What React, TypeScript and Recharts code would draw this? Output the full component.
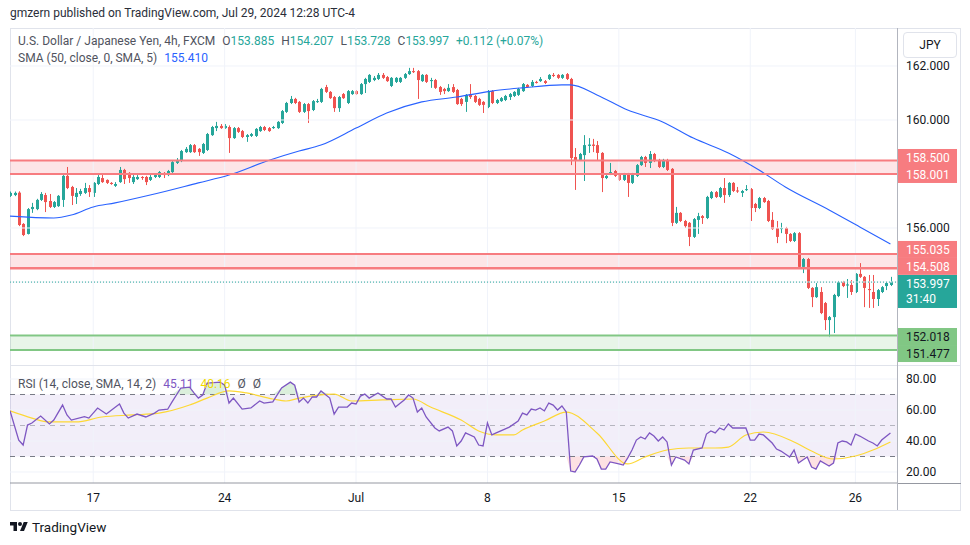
import React from 'react';
import { Area, Bar, ComposedChart, Line, ReferenceArea, ReferenceLine, XAxis, YAxis } from 'recharts';

// USDJPY 4h candles, [open, high, low, close]
const candles: number[][] = [
  [157.19, 157.35, 157.15, 157.30], [157.22, 157.35, 157.18, 157.30], [157.31, 157.36, 156.07, 156.11], [156.15, 156.18, 155.70, 155.74],
  [155.78, 156.74, 155.76, 156.70], [156.70, 156.93, 156.56, 156.78], [156.70, 157.08, 156.66, 157.04], [157.04, 157.33, 157.00, 157.26],
  [157.22, 157.30, 156.59, 156.96], [157.00, 157.26, 156.74, 156.78], [156.78, 157.00, 156.74, 156.96], [156.81, 157.22, 156.78, 157.19],
  [157.04, 157.96, 156.78, 157.93], [157.93, 158.26, 157.44, 157.48], [157.52, 157.56, 156.85, 157.19], [157.15, 157.48, 156.89, 157.30],
  [157.26, 157.45, 157.19, 157.37], [157.30, 157.67, 157.26, 157.48], [157.48, 157.59, 157.15, 157.33], [157.30, 157.70, 157.15, 157.67],
  [157.63, 157.96, 157.59, 157.89], [157.85, 158.00, 157.67, 157.70], [157.78, 157.80, 157.63, 157.67], [157.67, 157.70, 157.60, 157.63],
  [157.56, 157.70, 157.52, 157.63], [157.70, 158.26, 157.67, 158.15], [158.15, 158.19, 157.63, 157.81], [158.04, 158.07, 157.67, 157.85],
  [157.70, 157.96, 157.63, 157.89], [157.81, 157.96, 157.78, 157.89], [157.89, 157.92, 157.78, 157.85], [157.89, 157.93, 157.59, 157.70],
  [157.78, 157.96, 157.74, 157.89], [157.89, 158.02, 157.85, 157.96], [157.89, 158.11, 157.85, 158.07], [158.04, 158.07, 157.85, 157.96],
  [157.96, 158.15, 157.92, 158.11], [158.07, 158.48, 158.04, 158.44], [158.41, 158.59, 158.37, 158.52], [158.48, 158.89, 158.44, 158.85],
  [158.81, 159.00, 158.78, 158.93], [158.81, 159.11, 158.78, 159.07], [159.07, 159.11, 158.78, 158.81], [158.93, 158.96, 158.67, 158.81],
  [158.78, 159.15, 158.74, 159.11], [158.89, 159.52, 158.85, 159.48], [159.44, 159.78, 159.41, 159.74], [159.70, 159.93, 159.59, 159.78],
  [159.78, 159.85, 159.67, 159.70], [159.70, 159.85, 159.67, 159.78], [159.74, 159.80, 158.78, 159.33], [159.33, 159.74, 159.30, 159.70],
  [159.70, 159.74, 159.52, 159.56], [159.59, 159.63, 159.33, 159.37], [159.37, 159.48, 159.19, 159.44], [159.41, 159.52, 159.37, 159.48],
  [159.41, 159.70, 159.37, 159.67], [159.59, 159.78, 159.56, 159.74], [159.74, 159.78, 159.59, 159.63], [159.70, 159.74, 159.56, 159.59],
  [159.70, 159.78, 159.67, 159.74], [159.70, 159.96, 159.67, 159.93], [159.89, 160.37, 159.85, 160.33], [160.30, 160.67, 160.26, 160.63],
  [160.63, 160.89, 160.59, 160.78], [160.78, 160.82, 160.59, 160.63], [160.67, 160.70, 160.26, 160.30], [160.30, 160.63, 160.26, 160.59],
  [160.59, 160.63, 159.89, 160.33], [160.37, 160.74, 160.33, 160.70], [160.67, 160.78, 160.63, 160.70], [160.67, 161.19, 160.63, 161.15],
  [161.22, 161.30, 161.00, 161.04], [161.04, 161.07, 160.78, 160.81], [160.85, 160.89, 160.30, 160.44], [160.44, 160.89, 160.30, 160.85],
  [160.96, 161.00, 160.78, 160.81], [160.63, 161.11, 160.59, 161.07], [160.96, 161.11, 160.93, 161.07], [161.07, 161.11, 160.93, 160.96],
  [160.96, 161.37, 160.93, 161.33], [161.33, 161.56, 161.00, 161.52], [161.41, 161.70, 161.37, 161.67], [161.48, 161.63, 161.44, 161.56],
  [161.52, 161.74, 161.48, 161.67], [161.67, 161.74, 161.52, 161.56], [161.59, 161.63, 161.41, 161.44], [161.26, 161.59, 161.22, 161.56],
  [161.41, 161.59, 161.37, 161.56], [161.41, 161.59, 161.37, 161.56], [161.56, 161.74, 161.52, 161.70], [161.70, 161.93, 161.67, 161.81],
  [161.81, 161.93, 161.74, 161.78], [161.81, 161.85, 160.78, 161.48], [161.44, 161.70, 161.41, 161.67], [161.67, 161.70, 161.37, 161.41],
  [161.44, 161.56, 161.19, 161.48], [161.48, 161.52, 161.15, 161.19], [161.22, 161.26, 160.93, 161.04], [161.15, 161.19, 160.96, 161.07],
  [161.07, 161.33, 161.04, 161.19], [161.22, 161.33, 161.00, 161.04], [161.11, 161.15, 160.56, 160.59], [160.78, 160.82, 160.52, 160.59],
  [160.67, 160.96, 160.30, 160.93], [160.96, 161.33, 160.78, 160.85], [160.89, 160.93, 160.63, 160.67], [160.78, 160.82, 160.52, 160.56],
  [160.67, 160.70, 160.26, 160.56], [160.48, 161.11, 160.44, 161.07], [161.07, 161.11, 160.59, 160.63], [160.63, 160.78, 160.59, 160.74],
  [160.70, 160.85, 160.67, 160.81], [160.74, 160.93, 160.70, 160.89], [160.85, 161.00, 160.74, 160.96], [160.89, 161.07, 160.85, 161.04],
  [160.93, 161.19, 160.89, 161.15], [161.07, 161.37, 161.04, 161.33], [161.30, 161.33, 161.19, 161.22], [161.26, 161.48, 161.22, 161.41],
  [161.41, 161.45, 161.35, 161.39], [161.44, 161.59, 161.41, 161.52], [161.44, 161.48, 161.33, 161.37], [161.52, 161.70, 161.48, 161.67],
  [161.67, 161.74, 161.59, 161.63], [161.67, 161.70, 161.52, 161.56], [161.56, 161.70, 161.52, 161.67], [161.70, 161.74, 161.48, 161.52],
  [161.52, 161.56, 158.33, 158.59], [158.63, 158.96, 157.41, 158.52], [158.52, 158.78, 158.48, 158.74], [158.70, 159.44, 157.74, 159.07],
  [159.04, 159.33, 158.78, 159.09], [159.09, 159.30, 158.81, 159.04], [159.07, 159.22, 158.52, 158.78], [158.78, 158.81, 157.33, 157.85],
  [157.85, 157.96, 157.81, 157.93], [158.04, 158.41, 157.96, 158.07], [158.11, 158.15, 157.89, 157.93], [158.00, 158.04, 157.74, 157.78],
  [157.78, 158.04, 157.74, 158.00], [158.00, 158.04, 157.15, 157.67], [157.67, 158.04, 157.63, 158.00], [157.93, 158.37, 157.89, 158.33],
  [158.33, 158.67, 158.30, 158.63], [158.63, 158.67, 158.26, 158.41], [158.41, 158.85, 158.22, 158.74], [158.74, 158.78, 158.44, 158.48],
  [158.52, 158.56, 158.22, 158.26], [158.26, 158.56, 158.22, 158.52], [158.52, 158.56, 158.11, 158.15], [158.19, 158.22, 156.07, 156.19],
  [156.19, 156.78, 156.15, 156.56], [156.56, 156.59, 156.22, 156.26], [156.26, 156.30, 156.00, 156.07], [156.19, 156.22, 155.33, 155.67],
  [155.67, 156.37, 155.63, 156.33], [156.30, 156.56, 155.78, 156.44], [156.44, 156.48, 156.15, 156.37], [156.37, 157.19, 156.33, 157.15],
  [157.11, 157.37, 157.07, 157.33], [157.33, 157.37, 157.11, 157.15], [157.15, 157.52, 157.11, 157.48], [157.48, 157.85, 156.93, 157.22],
  [157.22, 157.70, 157.15, 157.67], [157.67, 157.70, 157.33, 157.37], [157.39, 157.52, 157.30, 157.35], [157.30, 157.41, 157.15, 157.37],
  [157.41, 157.59, 157.37, 157.44], [157.44, 157.48, 156.26, 156.74], [156.89, 156.93, 156.59, 156.74], [156.74, 157.15, 156.70, 157.11],
  [157.11, 157.15, 156.93, 156.96], [157.00, 157.04, 156.22, 156.26], [156.30, 156.59, 155.93, 155.96], [156.00, 156.26, 155.44, 155.67],
  [155.96, 156.19, 155.81, 156.00], [156.00, 156.04, 155.44, 155.78], [155.78, 155.81, 155.48, 155.52], [155.52, 155.85, 155.48, 155.81],
  [155.81, 155.85, 154.52, 154.56], [154.56, 154.89, 154.33, 154.85], [154.85, 154.89, 153.74, 153.78], [153.78, 153.81, 153.07, 153.44],
  [153.44, 153.96, 153.41, 153.81], [153.63, 153.81, 152.81, 152.85], [153.22, 153.26, 152.22, 152.59], [152.59, 152.74, 151.96, 152.70],
  [152.70, 153.56, 152.11, 153.52], [153.48, 154.04, 153.44, 154.00], [154.00, 154.04, 153.81, 153.85], [153.87, 154.11, 153.41, 153.91],
  [153.89, 154.07, 153.52, 153.63], [153.63, 154.33, 153.59, 154.30], [154.30, 154.70, 154.15, 154.19], [154.19, 154.22, 153.07, 153.78],
  [153.74, 154.26, 153.04, 153.70], [153.63, 154.26, 153.04, 153.37], [153.37, 153.74, 153.11, 153.70], [153.63, 153.85, 153.59, 153.81],
  [153.85, 154.00, 153.70, 153.96], [153.89, 154.19, 153.85, 154.00],
];

// SMA(50) read at sample bars: [bar index, value]
const smaPoints: number[][] = [
  [0, 156.44], [10, 156.37], [14, 156.48], [19, 156.78], [24, 156.93], [32, 157.22], [43, 157.67], [50, 157.96],
  [59, 158.5], [66, 158.85], [71, 159.07], [79, 159.7], [86, 160.26], [94, 160.67], [102, 160.85], [110, 161.07],
  [117, 161.19], [126, 161.3], [128, 161.3], [134, 160.93], [141, 160.37], [149, 159.93], [156, 159.33], [164, 158.78],
  [171, 158.15], [177, 157.52], [187, 156.67], [194, 156.04], [201, 155.41],
];

// RSI(14) turning points: [bar index, value]
const rsiPoints: number[][] = [
  [0, 59.6], [2, 40.6], [3, 37.4], [4, 50.3], [5, 51.6], [7, 56.1], [9, 51], [10, 53.5], [12, 63.2], [13, 56.8], [14, 53.5],
  [17, 55.7], [18, 54.8], [20, 61.3], [22, 57.4], [25, 63.9], [26, 58], [27, 54.8], [29, 57.4], [31, 55.5], [33, 58], [34, 60],
  [36, 60.5], [37, 65.2], [39, 74.2], [41, 74.8], [42, 71], [43, 67.7], [44, 69.7], [45, 77.4], [48, 78], [49, 76], [50, 64.5],
  [51, 67.7], [53, 60.6], [55, 61.3], [57, 65.8], [58, 64.5], [60, 65.2], [62, 74.2], [64, 78], [65, 76], [66, 65.2], [67, 67.7],
  [68, 64.5], [69, 68.4], [70, 68.4], [71, 72.3], [73, 67.7], [74, 57.4], [75, 61.9], [77, 61.9], [78, 64.5], [79, 63.9], [80, 69],
  [81, 70.3], [82, 67.7], [84, 71], [86, 67.1], [87, 67.1], [88, 61.9], [90, 66.5], [91, 69.7], [92, 67.7], [93, 58.7], [94, 61.3],
  [95, 55.5], [97, 48.4], [98, 46.5], [100, 49], [101, 46.5], [102, 36.8], [103, 40], [104, 45.2], [106, 42.6], [107, 37.4],
  [108, 36.8], [109, 51.6], [110, 43.9], [111, 45.2], [114, 49], [116, 52.9], [117, 58], [118, 56.8], [119, 60.6], [120, 60],
  [121, 61.3], [122, 59.4], [123, 64.5], [124, 63.2], [125, 60], [126, 62.6], [127, 58.7], [128, 20.6], [129, 20], [130, 24.5],
  [131, 29.7], [133, 30.3], [134, 28.4], [135, 21.9], [136, 21.9], [137, 26.5], [139, 25.2], [140, 24.5], [141, 29], [142, 34.2],
  [143, 40.6], [144, 42.6], [145, 41.3], [146, 45.2], [147, 43.2], [148, 40], [149, 42.6], [150, 39.4], [151, 24.5], [152, 29.7],
  [154, 27.7], [155, 25.2], [156, 34.2], [158, 35.5], [159, 44.5], [160, 46.5], [161, 45.2], [162, 48.4], [163, 47.1], [164, 51],
  [165, 48.4], [168, 48.4], [169, 40.6], [170, 40.6], [171, 44.5], [172, 43.9], [174, 38.7], [175, 34.8], [176, 33.5], [177, 31.6],
  [178, 29.7], [179, 34.2], [180, 25.8], [182, 29.7], [183, 23.2], [184, 21.9], [185, 27.1], [187, 23.9], [188, 25.8], [189, 38.7],
  [190, 40], [191, 39.4], [192, 37.4], [193, 44.5], [194, 43.2], [196, 40], [197, 38.7], [198, 36.8], [199, 40.6], [201, 45.2],
];

// RSI-based moving average
const rsiMaPoints: number[][] = [
  [0, 59.4], [5, 54.8], [9, 52.3], [15, 52.3], [21, 55.5], [28, 56.8], [34, 58], [41, 63.2], [45, 67.7], [50, 72.3], [54, 71],
  [60, 67.1], [63, 65.8], [66, 67.7], [74, 70.3], [78, 65.8], [85, 66.5], [92, 67.1], [96, 61.9], [103, 53.5], [107, 46.5],
  [111, 43.9], [115, 43.9], [117, 47.1], [122, 52.9], [127, 58.7], [134, 45.2], [141, 25.2], [145, 29.7], [150, 34.2],
  [155, 35.5], [161, 35.5], [164, 36.1], [168, 43.9], [172, 45.8], [179, 39.4], [183, 33.5], [188, 28.4], [193, 30.3],
  [197, 34.2], [201, 39.4],
];

const dayTicks = [19, 49, 79, 109, 139, 169, 193];
const dayLabels = ['17', '24', 'Jul', '8', '15', '22', '26'];

const priceTicks = [162, 160, 158, 156, 154, 152];
const priceTickLabels = ['162.000', '160.000', '', '156.000', '', ''];
const rsiTicks = [80, 60, 40, 20];

const upperZone = [158.001, 158.5];
const middleZone = [154.508, 155.035];
const supportZone = [151.477, 152.018];
const lastPrice = 153.997;
const countdown = '31:40';

const UP = '#26a69a';
const DOWN = '#ef5350';
const GRID = '#f0f3fa';
const FONT = 'Roboto, "Noto Sans", sans-serif';
const TEXT = '#131722';

const rows = candles.map(([o, h, l, c], i) => ({ i, o, h, l, c, sma: null as number | null, rsi: null as number | null, rsiMa: null as number | null }));
smaPoints.forEach(([i, v]) => { rows[i].sma = v; });
rsiPoints.forEach(([i, v]) => { rows[i].rsi = v; });
rsiMaPoints.forEach(([i, v]) => { rows[i].rsiMa = v; });

function Candle(props: any) {
  const { x, y, width, height, payload } = props;
  if (!payload || x == null) return null;
  const { o, h, l, c } = payload;
  const top = Math.min(y, y + height);
  const span = Math.abs(height);
  const k = h > l ? span / (h - l) : 0;
  const cx = Math.round(x + width / 2) + 0.5;
  const yo = top + (h - o) * k;
  const yc = top + (h - c) * k;
  const color = c >= o ? UP : DOWN;
  return (
    <g>
      <line x1={cx} x2={cx} y1={top} y2={top + span} stroke={color} strokeWidth={1} />
      <rect x={cx - 1.5} y={Math.min(yo, yc)} width={3} height={Math.max(1, Math.abs(yo - yc))} fill={color} />
    </g>
  );
}

function AxisText(props: any) {
  const { viewBox, text } = props;
  if (!viewBox || !text) return null;
  return (
    <text x={viewBox.x + viewBox.width + 9} y={viewBox.y + 4} fontSize={12} fill={TEXT} fontFamily={FONT}>
      {text}
    </text>
  );
}

function PriceTag(props: any) {
  const { viewBox, text, sub, bg, fg, shift } = props;
  if (!viewBox) return null;
  const x = viewBox.x + viewBox.width;
  const y = viewBox.y + shift;
  return (
    <g>
      <rect x={x} y={y - 8.5} width={60} height={sub ? 33 : 17} fill={bg} />
      <text x={x + 9} y={y + 4.5} fontSize={12} fill={fg} fontFamily={FONT}>{text}</text>
      {sub ? <text x={x + 9} y={y + 20} fontSize={12} fill={fg} fontFamily={FONT}>{sub}</text> : null}
    </g>
  );
}

const ZONE_RED = '#f77c80';
const ZONE_GREEN = '#81c784';

function PricePane() {
  return (
    <ComposedChart width={970} height={337} data={rows} margin={{ top: 0, right: 73, bottom: 0, left: 10 }}>
      <XAxis dataKey="i" type="number" domain={[0, 202.5]} hide allowDataOverflow />
      <YAxis type="number" domain={[150.926, 163.407]} hide allowDataOverflow />
      {priceTicks.map((p, k) => (
        <ReferenceLine key={'g' + p} y={p} stroke={GRID} strokeWidth={1} label={<AxisText text={priceTickLabels[k]} />} />
      ))}
      {dayTicks.map((t) => (
        <ReferenceLine key={'v' + t} x={t} stroke={GRID} strokeWidth={1} />
      ))}
      <ReferenceArea y1={upperZone[0]} y2={upperZone[1]} fill="#f23645" fillOpacity={0.13} stroke="none" />
      <ReferenceArea y1={middleZone[0]} y2={middleZone[1]} fill="#f23645" fillOpacity={0.13} stroke="none" />
      <ReferenceArea y1={supportZone[0]} y2={supportZone[1]} fill="#4caf50" fillOpacity={0.13} stroke="none" />
      <Bar dataKey={(d: any) => [d.l, d.h]} barSize={3} shape={<Candle />} isAnimationActive={false} />
      <Line dataKey="sma" type="monotone" stroke="#2962ff" strokeWidth={1.1} dot={false} connectNulls isAnimationActive={false} />
      <ReferenceLine y={upperZone[1]} stroke={ZONE_RED} strokeWidth={2} label={<PriceTag text="158.500" bg={ZONE_RED} fg="#fff" shift={-3} />} />
      <ReferenceLine y={upperZone[0]} stroke={ZONE_RED} strokeWidth={2} label={<PriceTag text="158.001" bg={ZONE_RED} fg="#fff" shift={0.5} />} />
      <ReferenceLine y={middleZone[1]} stroke={ZONE_RED} strokeWidth={2} label={<PriceTag text="155.035" bg={ZONE_RED} fg="#fff" shift={-4.6} />} />
      <ReferenceLine y={middleZone[0]} stroke={ZONE_RED} strokeWidth={2.5} label={<PriceTag text="154.508" bg={ZONE_RED} fg="#fff" shift={-1.9} />} />
      <ReferenceLine y={lastPrice} stroke={UP} strokeWidth={1} strokeDasharray="1 2" label={<PriceTag text="153.997" sub={countdown} bg={UP} fg="#fff" shift={1.4} />} />
      <ReferenceLine y={supportZone[1]} stroke={ZONE_GREEN} strokeWidth={2} label={<PriceTag text="152.018" bg={ZONE_GREEN} fg={TEXT} shift={1} />} />
      <ReferenceLine y={supportZone[0]} stroke={ZONE_GREEN} strokeWidth={2} label={<PriceTag text="151.477" bg={ZONE_GREEN} fg={TEXT} shift={3.4} />} />
    </ComposedChart>
  );
}

function RsiPane() {
  return (
    <ComposedChart width={970} height={144} data={rows} margin={{ top: 0, right: 73, bottom: 0, left: 10 }}>
      <XAxis
        dataKey="i"
        type="number"
        domain={[0, 202.5]}
        ticks={dayTicks}
        interval={0}
        allowDataOverflow
        height={27}
        tickLine={false}
        tickMargin={4}
        axisLine={{ stroke: '#9598a1' }}
        tick={{ fontSize: 12, fill: TEXT, fontFamily: FONT }}
        tickFormatter={(v: number) => dayLabels[dayTicks.indexOf(v)] ?? ''}
      />
      <YAxis type="number" domain={[12.9, 88.4]} hide allowDataOverflow />
      {rsiTicks.map((r) => (
        <ReferenceLine key={'r' + r} y={r} stroke={GRID} label={<AxisText text={r.toFixed(2)} />} />
      ))}
      {dayTicks.map((t) => (
        <ReferenceLine key={'rv' + t} x={t} stroke={GRID} />
      ))}
      <ReferenceArea y1={30} y2={70} fill="#7e57c2" fillOpacity={0.1} stroke="none" />
      <ReferenceLine y={70} stroke="#787b86" strokeDasharray="5 5" />
      <ReferenceLine y={50} stroke="#787b86" strokeOpacity={0.5} strokeDasharray="5 5" />
      <ReferenceLine y={30} stroke="#787b86" strokeDasharray="5 5" />
      <Area
        dataKey={(d: any) => (d.rsi == null ? null : [70, Math.max(70, d.rsi)])}
        type="linear"
        stroke="none"
        fill="#4caf50"
        fillOpacity={0.2}
        connectNulls
        isAnimationActive={false}
      />
      <Area
        dataKey={(d: any) => (d.rsi == null ? null : [Math.min(30, d.rsi), 30])}
        type="linear"
        stroke="none"
        fill="#f23645"
        fillOpacity={0.15}
        connectNulls
        isAnimationActive={false}
      />
      <Line dataKey="rsiMa" type="monotone" stroke="#fdd835" strokeWidth={1.2} dot={false} connectNulls isAnimationActive={false} />
      <Line dataKey="rsi" type="linear" stroke="#7e57c2" strokeWidth={1.3} dot={false} connectNulls isAnimationActive={false} />
    </ComposedChart>
  );
}

const abs = (left: number, top: number, extra: React.CSSProperties = {}): React.CSSProperties => ({
  position: 'absolute',
  left,
  top,
  ...extra,
});

export default function App() {
  return (
    <div style={{ position: 'absolute', left: 0, top: 0, width: 970, height: 545, background: '#fff', fontFamily: FONT, overflow: 'hidden' }}>
      <div style={abs(10, 6, { fontSize: 12, color: '#2a2e39', whiteSpace: 'nowrap' })}>
        gmzern published on TradingView.com, Jul 29, 2024 12:28 UTC-4
      </div>

      <div style={abs(10, 28, { width: 951, height: 483, border: '1px solid #e0e3eb', boxSizing: 'border-box' })} />

      <div style={abs(0, 28)}>
        <PricePane />
      </div>
      <div style={abs(10, 365, { width: 951, height: 1, background: '#e0e3eb' })} />
      <div style={abs(0, 366)}>
        <RsiPane />
      </div>
      <div style={abs(897, 483, { width: 64, height: 1, background: '#9598a1' })} />
      <div style={abs(897, 28, { width: 1, height: 482, background: '#b2b5be' })} />

      <div style={abs(903, 32, { width: 54, height: 26, border: '1px solid #e0e3eb', borderRadius: 4, boxSizing: 'border-box', fontSize: 12, color: TEXT, textAlign: 'center', lineHeight: '24px', background: '#fff' })}>
        JPY
      </div>

      <div style={abs(18, 34, { fontSize: 12, color: '#50535e', whiteSpace: 'nowrap', display: 'flex', gap: 7 })}>
        <span>U.S. Dollar / Japanese Yen, 4h, FXCM</span>
        <span>O<span style={{ color: UP }}>153.885</span></span>
        <span>H<span style={{ color: UP }}>154.207</span></span>
        <span>L<span style={{ color: UP }}>153.728</span></span>
        <span>C<span style={{ color: UP }}>153.997</span></span>
        <span style={{ color: UP }}>+0.112 (+0.07%)</span>
      </div>
      <div style={abs(18, 51, { fontSize: 12, color: '#50535e', whiteSpace: 'nowrap', display: 'flex', gap: 7 })}>
        <span>SMA (50, close, 0, SMA, 5)</span>
        <span style={{ color: '#2962ff' }}>155.410</span>
      </div>

      <div style={abs(18, 377, { fontSize: 12, color: '#50535e', whiteSpace: 'nowrap', display: 'flex', gap: 7 })}>
        <span>RSI (14, close, SMA, 14, 2)</span>
        <span style={{ color: '#7e57c2' }}>45.11</span>
        <span style={{ color: '#f0d800' }}>40.16</span>
        <span>Ø</span>
        <span>Ø</span>
      </div>

      <div style={abs(10, 519, { display: 'flex', alignItems: 'center', gap: 4, fontSize: 13.5, color: TEXT })}>
        <svg width={18} height={14} viewBox="0 0 36 28">
          <path d="M14 22H7V11H0V4h14v18z" fill={TEXT} />
          <circle cx={20} cy={8} r={4} fill={TEXT} />
          <path d="M28 22h-8l7.5-18h8L28 22z" fill={TEXT} />
        </svg>
        <span>TradingView</span>
      </div>
    </div>
  );
}
